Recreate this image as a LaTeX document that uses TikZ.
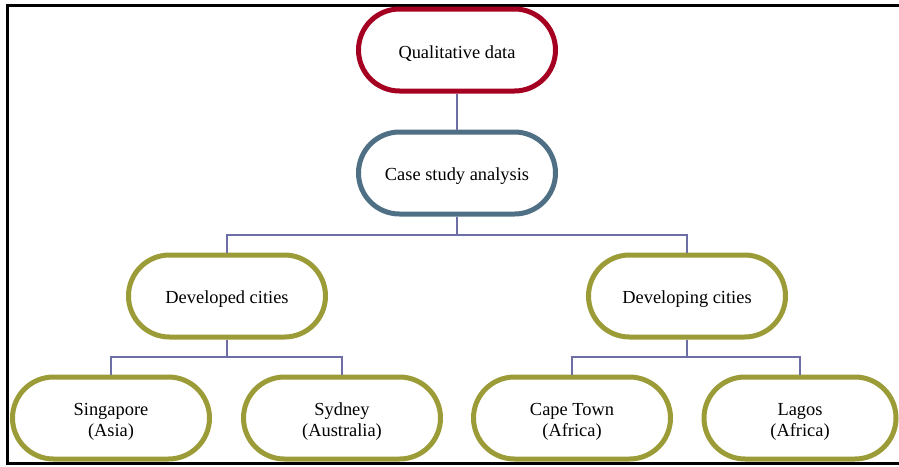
\documentclass[tikz,border=0pt]{standalone}
\usepackage{fontspec}
\setmainfont{Liberation Serif}
\definecolor{topred}{HTML}{A50021}
\definecolor{casegray}{HTML}{4E6F84}
\definecolor{cityolive}{HTML}{9B9B37}
\definecolor{linkblue}{HTML}{6E6EA6}
\begin{document}
\begin{tikzpicture}[x=1pt, y=-1pt,
        box/.style={draw, fill=white, rectangle, rounded corners=41pt, line width=5pt,
            minimum width=197pt, minimum height=82pt, align=center, text height=19pt,
            font=\fontsize{18.4}{21}\selectfont},
        leaf/.style={box, draw=cityolive, text height=37pt, text depth=0pt},
        link/.style={linkblue, line width=1.5pt}]
        \useasboundingbox (0,0) rectangle (899,466);
        \draw[black, line width=3pt] (899,5.5) -- (7,5.5) -- (7,463) -- (899,463);

        \node[box, draw=topred] (qual) at (457,50) {Qualitative data};
        \node[box, draw=casegray] (case) at (457,173) {Case study analysis};
        \node[box, draw=cityolive] (dvd) at (227,296) {Developed cities};
        \node[box, draw=cityolive] (dvg) at (687,296) {Developing cities};
        \node[leaf] (sing) at (111,418) {Singapore\\(Asia)};
        \node[leaf] (syd) at (342,418) {Sydney\\(Australia)};
        \node[leaf] (cape) at (572,418) {Cape Town\\(Africa)};
        \node[leaf, minimum width=192pt] (lagos) at (800,418) {Lagos\\(Africa)};

        \draw[link] (qual) -- (case);
        \draw[link] (case.south) -- ++(0,18.5) -| (dvd.north);
        \draw[link] (case.south) -- ++(0,18.5) -| (dvg.north);
        \draw[link] (dvd.south) -- ++(0,17.5) -| (sing.north);
        \draw[link] (dvd.south) -- ++(0,17.5) -| (syd.north);
        \draw[link] (dvg.south) -- ++(0,17.5) -| (cape.north);
        \draw[link] (dvg.south) -- ++(0,17.5) -| (lagos.north);
    \end{tikzpicture}
\end{document}
